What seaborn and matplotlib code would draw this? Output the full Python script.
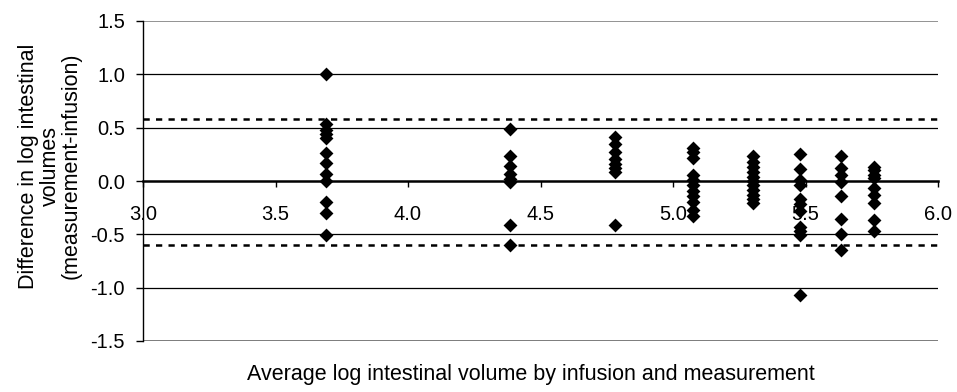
import matplotlib
matplotlib.use("Agg")
import matplotlib.pyplot as plt
import seaborn as sns
import pandas as pd

# Mean log volume (x) for each subject group and the per-measurement differences
group_means = [3.69, 4.385, 4.78, 5.075, 5.30, 5.48, 5.635, 5.76]
group_diffs = [
    [1.00, 0.53, 0.48, 0.44, 0.40, 0.26, 0.17, 0.07, 0.00, -0.20, -0.30, -0.51],
    [0.49, 0.23, 0.14, 0.07, 0.02, -0.01, -0.41, -0.60],
    [0.41, 0.35, 0.27, 0.21, 0.16, 0.12, 0.08, -0.41],
    [0.31, 0.27, 0.22, 0.06, 0.01, -0.04, -0.09, -0.14, -0.20, -0.27, -0.33],
    [0.23, 0.18, 0.13, 0.08, 0.04, 0.00, -0.04, -0.08, -0.13, -0.17, -0.21],
    [0.25, 0.11, 0.01, -0.04, -0.17, -0.22, -0.28, -0.43, -0.47, -0.51, -1.07],
    [0.23, 0.12, 0.06, -0.01, -0.14, -0.36, -0.50, -0.65],
    [0.13, 0.10, 0.06, 0.03, -0.07, -0.13, -0.21, -0.37, -0.47],
]

# Limits of agreement
upper_loa = 0.585
lower_loa = -0.60

x_ticks = [3.0, 3.5, 4.0, 4.5, 5.0, 5.5, 6.0]
y_ticks = [-1.5, -1.0, -0.5, 0.0, 0.5, 1.0, 1.5]

rows = []
for m, diffs in zip(group_means, group_diffs):
    for d in diffs:
        rows.append({"mean": m, "diff": d})
df = pd.DataFrame(rows)

sns.set_theme(style="white")
plt.rcParams["font.family"] = ["Liberation Sans", "DejaVu Sans"]

fig = plt.figure(figsize=(9.57, 3.92), dpi=100)
ax = fig.add_axes([143 / 957, 1 - 341 / 392, (938 - 143) / 957, 320 / 392])

# Horizontal reference lines
for yv in [-1.0, -0.5, 0.5, 1.0]:
    ax.axhline(yv, color="black", lw=0.9, zorder=1)
ax.axhline(1.5, color="#808080", lw=1.2, zorder=1)
ax.axhline(-1.5, color="#707070", lw=2.0, zorder=1)

# Limits of agreement as dashed lines
for yv in [upper_loa, lower_loa]:
    ax.axhline(yv, color="black", lw=1.8, ls=(0, (2.5, 2.5)), zorder=2)

sns.scatterplot(data=df, x="mean", y="diff", marker="D", s=50, color="black",
                linewidth=0, ax=ax, zorder=3, legend=False)

ax.set_xlim(3.0, 6.0)
ax.set_ylim(-1.5, 1.5)
ax.set_xticks(x_ticks)
ax.set_yticks(y_ticks)
ax.set_xticklabels([f"{v:.1f}" for v in x_ticks])
ax.set_yticklabels([f"{v:.1f}" for v in y_ticks])

for s in ["top", "right"]:
    ax.spines[s].set_visible(False)
ax.spines["bottom"].set_position(("data", 0))
ax.spines["bottom"].set_linewidth(1.8)
ax.spines["bottom"].set_color("black")
ax.spines["left"].set_linewidth(1.0)
ax.spines["left"].set_color("black")

ax.tick_params(axis="x", direction="out", length=4, width=1, color="black",
               pad=13, labelsize=14.5, labelcolor="black", bottom=True)
ax.tick_params(axis="y", direction="out", length=5, width=1, color="black",
               pad=8, labelsize=14.5, labelcolor="black", left=True)

ax.set_xlabel("Average log intestinal volume by infusion and measurement",
              fontsize=15.5, color="black")
ax.xaxis.set_label_coords(0.488, -0.106)
ax.xaxis.label.set_va("center")
ax.set_ylabel("")

fig.text(50 / 957, 1 - 166 / 392,
         "Difference in log intestinal\nvolumes\n(measurement-infusion)",
         rotation=90, ha="center", va="center", multialignment="center",
         fontsize=15.5, linespacing=1.0, color="black")

fig.savefig("out.png", dpi=100, facecolor="white")
